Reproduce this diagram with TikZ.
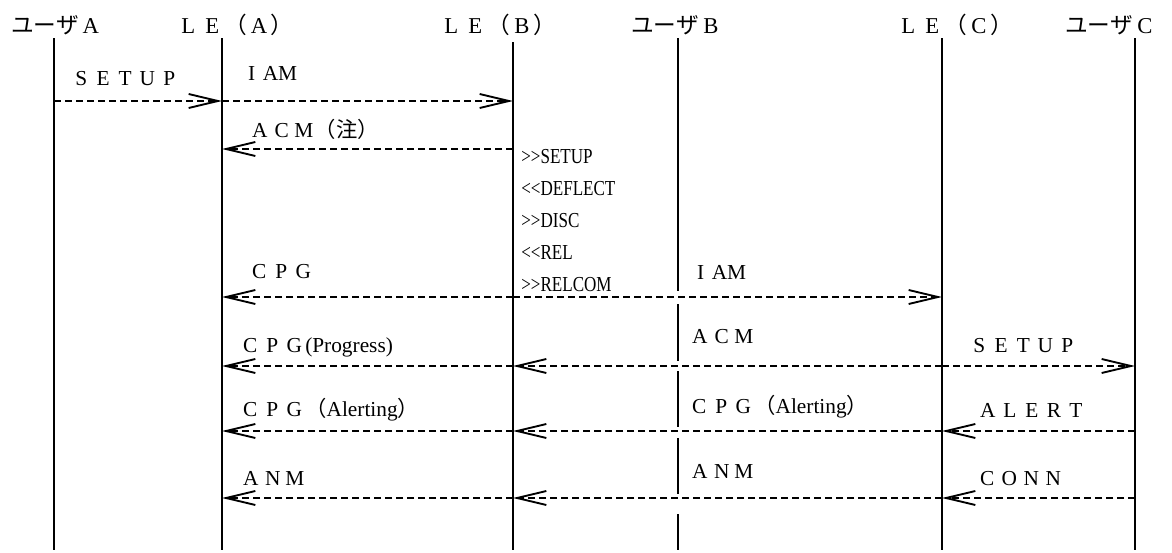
\documentclass[tikz,border=0pt]{standalone}
\usepackage{fontspec}
\setmainfont{Liberation Serif}
\newfontfamily\jp{Noto Sans CJK JP}
\newfontfamily\narrow[FakeStretch=0.8]{Liberation Serif}
\usetikzlibrary{arrows.meta}
\newlength\fwcell
\setlength\fwcell{16.5pt}
\makeatletter
\newcommand\fw[1]{\fw@loop#1\@nil}
\def\fw@loop#1{\ifx#1\@nil\else\makebox[\fwcell]{#1}\expandafter\fw@loop\fi}
\makeatother

\begin{document}
\begin{tikzpicture}[x=0.75pt,y=0.75pt,yscale=-1,xscale=1,
  life/.style={line width=1.4pt},
  msg/.style={line width=1.4pt,dash pattern=on 5.25pt off 3pt,-{Straight Barb[length=22pt,width=10.5pt]}},
  hdr/.style={anchor=base west,inner sep=0pt,font=\fontsize{17}{20}\selectfont\setlength\fwcell{18pt}},
  lbl/.style={anchor=base west,inner sep=0pt,font=\fontsize{16}{19}\selectfont},
  note/.style={anchor=base west,inner sep=0pt,font=\narrow\fontsize{16}{19}\selectfont}]
\useasboundingbox (0,0) rectangle (1172,553);

%Lifeline positions
\coordinate (ua) at (54,0);
\coordinate (lea) at (222,0);
\coordinate (leb) at (513,0);
\coordinate (ub) at (678,0);
\coordinate (lec) at (942,0);
\coordinate (uc) at (1135,0);
%Message rows
\coordinate (r1) at (0,101);
\coordinate (r2) at (0,149);
\coordinate (r4) at (0,297);
\coordinate (r5) at (0,366);
\coordinate (r6) at (0,431);
\coordinate (r7) at (0,498);

%Headers
\node[hdr] (hua) at (11,33) {\jp ユーザ\rmfamily\fw{A}};
\node[hdr] (hlea) at (176,33) {\fw{LE}{\jp （}\fw{A}{\jp ）}};
\node[hdr] (hleb) at (439,33) {\fw{LE}{\jp （}\fw{B}{\jp ）}};
\node[hdr] (hub) at (631,33) {\jp ユーザ\rmfamily\fw{B}};
\node[hdr] (hlec) at (896,33) {\fw{LE}{\jp （}\fw{C}{\jp ）}};
\node[hdr] (huc) at (1065,33) {\jp ユーザ\rmfamily\fw{C}};

%Lifelines
\foreach \n in {ua,lea,lec,uc}
  \draw[life] (\n) ++(0,38) -- ++(0,512);
\draw[life] (leb) ++(0,42) -- ++(0,508);
%Lifeline: user B, broken where the messages cross
\foreach \a/\b in {38/291,304/361,371/427,438/494,514/550}
  \draw[life] (ub) ++(0,\a) -- ++(0,\b-\a);

%Messages
\draw[msg] (ua |- r1) -- (lea |- r1);
\draw[msg] (lea |- r1) -- (leb |- r1);
\draw[msg] (leb |- r2) -- (lea |- r2);
\draw[msg] (leb |- r4) -- (lea |- r4);
\draw[msg] (leb |- r4) -- (lec |- r4);
\draw[msg] (leb |- r5) -- (lea |- r5);
\draw[msg] (lec |- r5) -- (leb |- r5);
\draw[msg] (lec |- r5) -- (uc |- r5);
\draw[msg] (leb |- r6) -- (lea |- r6);
\draw[msg] (lec |- r6) -- (leb |- r6);
\draw[msg] (uc |- r6) -- (lec |- r6);
\draw[msg] (leb |- r7) -- (lea |- r7);
\draw[msg] (lec |- r7) -- (leb |- r7);
\draw[msg] (uc |- r7) -- (lec |- r7);

%Message labels
\node[lbl] (m1a) at (70,85) {\fw{SETUP}};
\node[lbl] (m1b) at (240.5,80) {\fw{I}AM};
\node[lbl] (m2) at (248.6,137) {\fw{ACM}{\jp （注）}};
\node[lbl] (m4a) at (248,278) {\fw{CPG}};
\node[lbl] (m4b) at (689.5,279) {\fw{I}AM};
\node[lbl] (m5a) at (239,352) {\fw{CPG}(Progress)};
\node[lbl] (m5b) at (688.6,343) {\fw{ACM}};
\node[lbl] (m5c) at (968,352) {\fw{SETUP}};
\node[lbl] (m6a) at (239,416) {\fw{CPG}{\jp （}Alerting{\jp ）}};
\node[lbl] (m6b) at (688,413) {\fw{CPG}{\jp （}Alerting{\jp ）}};
\node[lbl] (m6c) at (976.6,417) {\fw{ALERT}};
\node[lbl] (m7a) at (239.6,485) {\fw{ANM}};
\node[lbl] (m7b) at (688.6,478) {\fw{ANM}};
\node[lbl] (m7c) at (976,485) {\fw{CONN}};

%Notes at LE (B)
\foreach \t [count=\i] in {>{}>SETUP,<{}<DEFLECT,>{}>DISC,<{}<REL,>{}>RELCOM}
  \node[note] (note\i) at (521,131+32*\i) {\t};

\end{tikzpicture}
\end{document}
